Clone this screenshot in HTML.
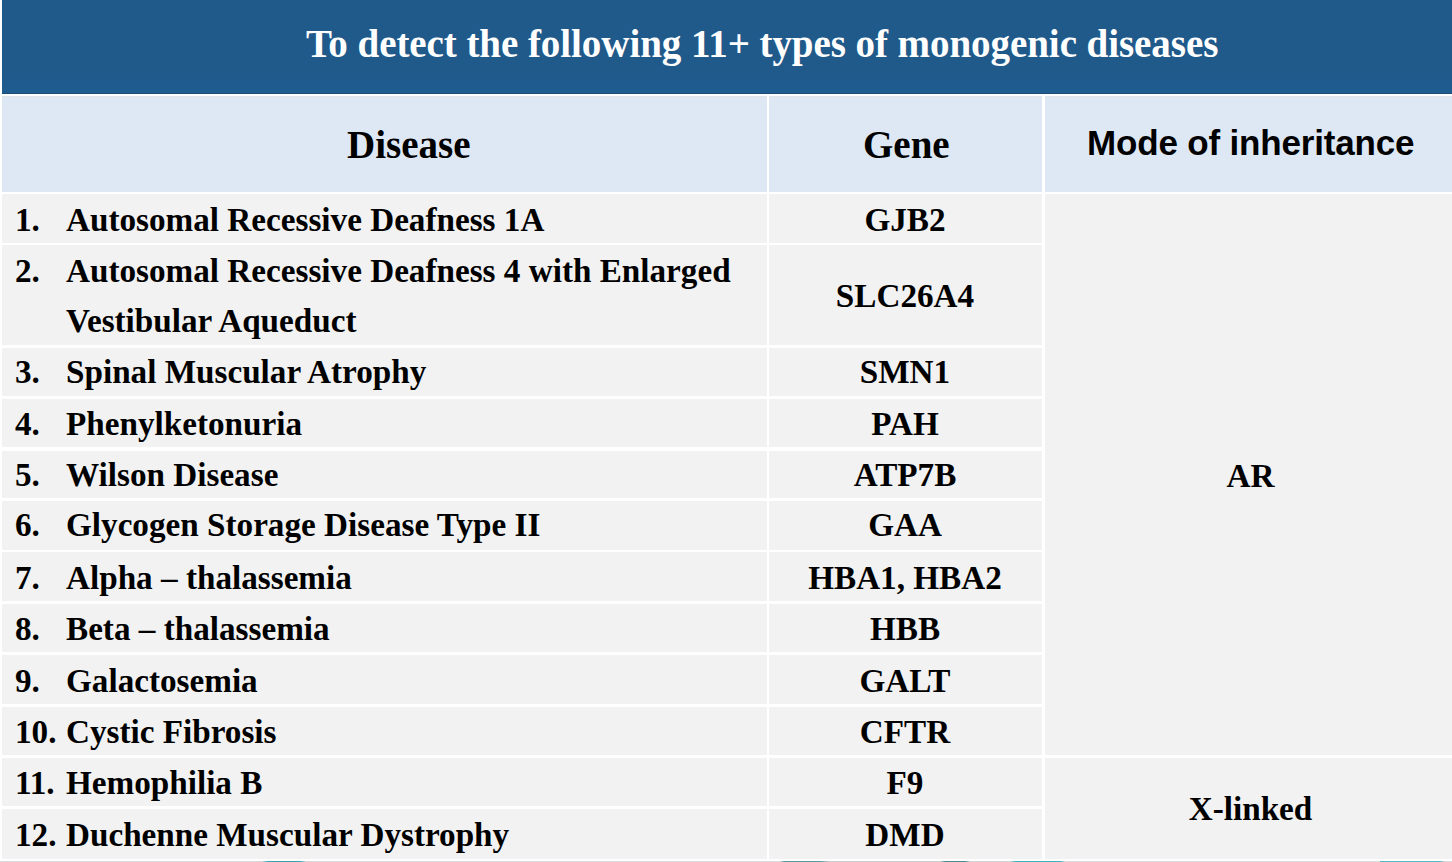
<!DOCTYPE html><html><head><meta charset="utf-8"><style>
html,body{margin:0;padding:0;}
body{width:1452px;height:862px;position:relative;overflow:hidden;background:#fff;font-family:"Liberation Serif",serif;font-weight:bold;color:#000;}
.a{position:absolute;}
.c{position:absolute;background:#f2f2f2;}
.h{position:absolute;background:linear-gradient(#dfe4ea 0px,#dfe4ea 1px,#dde8f4 2px);}
.t{position:absolute;white-space:nowrap;font-size:33.2px;line-height:1;}
.ctr{text-align:center;}
</style></head><body>
<div class="a" style="left:2px;top:0;width:1450px;height:94px;background:linear-gradient(#205a8b 0px,#205a8b 78px,#1e5b8f 86px,#1e5b8f 92px);"></div>
<div class="a" style="left:2px;top:93px;width:1450px;height:1px;background:#1d4c76;"></div>
<div class="a" style="left:0;top:861px;width:1452px;height:1px;background:linear-gradient(90deg,#d8dcdc 0px,#d8dcdc 262px,#3aa0b0 268px,#3aa0b0 300px,#d8dcdc 306px,#d8dcdc 780px,#5a9aa8 784px,#5a9aa8 820px,#c8d0d0 830px,#c8d0d0 940px,#4a8a98 945px,#4a8a98 965px,#d0d8d8 970px,#d0d8d8 1010px,#40b0c0 1015px,#40b0c0 1060px,#d8dcdc 1065px,#d8dcdc 1380px,#50b8c8 1380px,#50b8c8 1440px,#d8dcdc 1445px);"></div>
<div class="t" style="left:306px;top:24.34px;font-size:39px;color:#fff;letter-spacing:-0.06px;">To detect the following 11+ types of monogenic diseases</div>
<div class="h" style="left:2px;top:96px;width:765px;height:96px;"></div>
<div class="h" style="left:769px;top:96px;width:273px;height:96px;"></div>
<div class="h" style="left:1045px;top:96px;width:407px;height:96px;"></div>
<div class="t" style="left:347px;top:125.34px;font-size:39px;">Disease</div>
<div class="t" style="left:863px;top:125.34px;font-size:39px;">Gene</div>
<div class="t" style="left:1087px;top:125.37px;font-size:35px;letter-spacing:-0.17px;font-family:'Liberation Sans',sans-serif;">Mode of inheritance</div>
<div class="c" style="left:2px;top:194px;width:765px;height:48.50px;"></div>
<div class="c" style="left:769px;top:194px;width:273px;height:48.50px;"></div>
<div class="t" style="left:15px;top:203.19px;">1.</div>
<div class="t" style="left:66px;top:203.19px;">Autosomal Recessive Deafness 1A</div>
<div class="t ctr" style="left:769px;width:272px;top:203.19px;">GJB2</div>
<div class="c" style="left:2px;top:245.3px;width:765px;height:99.90px;"></div>
<div class="c" style="left:769px;top:245.3px;width:273px;height:99.90px;"></div>
<div class="t" style="left:15px;top:253.80px;">2.</div>
<div class="t" style="left:66px;top:253.80px;">Autosomal Recessive Deafness 4 with Enlarged</div>
<div class="t" style="left:66px;top:303.89px;">Vestibular Aqueduct</div>
<div class="t ctr" style="left:769px;width:272px;top:278.84px;">SLC26A4</div>
<div class="c" style="left:2px;top:347.7px;width:765px;height:48.00px;"></div>
<div class="c" style="left:769px;top:347.7px;width:273px;height:48.00px;"></div>
<div class="t" style="left:15px;top:354.69px;">3.</div>
<div class="t" style="left:66px;top:354.69px;">Spinal Muscular Atrophy</div>
<div class="t ctr" style="left:769px;width:272px;top:354.69px;">SMN1</div>
<div class="c" style="left:2px;top:398.7px;width:765px;height:47.90px;"></div>
<div class="c" style="left:769px;top:398.7px;width:273px;height:47.90px;"></div>
<div class="t" style="left:15px;top:406.89px;">4.</div>
<div class="t" style="left:66px;top:406.89px;">Phenylketonuria</div>
<div class="t ctr" style="left:769px;width:272px;top:406.89px;">PAH</div>
<div class="c" style="left:2px;top:450.5px;width:765px;height:47.80px;"></div>
<div class="c" style="left:769px;top:450.5px;width:273px;height:47.80px;"></div>
<div class="t" style="left:15px;top:457.89px;">5.</div>
<div class="t" style="left:66px;top:457.89px;">Wilson Disease</div>
<div class="t ctr" style="left:769px;width:272px;top:457.89px;">ATP7B</div>
<div class="c" style="left:2px;top:501.3px;width:765px;height:48.70px;"></div>
<div class="c" style="left:769px;top:501.3px;width:273px;height:48.70px;"></div>
<div class="t" style="left:15px;top:508.49px;">6.</div>
<div class="t" style="left:66px;top:508.49px;">Glycogen Storage Disease Type II</div>
<div class="t ctr" style="left:769px;width:272px;top:508.49px;">GAA</div>
<div class="c" style="left:2px;top:552.3px;width:765px;height:48.40px;"></div>
<div class="c" style="left:769px;top:552.3px;width:273px;height:48.40px;"></div>
<div class="t" style="left:15px;top:560.60px;">7.</div>
<div class="t" style="left:66px;top:560.60px;">Alpha – thalassemia</div>
<div class="t ctr" style="left:769px;width:272px;top:560.60px;">HBA1, HBA2</div>
<div class="c" style="left:2px;top:603.5px;width:765px;height:48.80px;"></div>
<div class="c" style="left:769px;top:603.5px;width:273px;height:48.80px;"></div>
<div class="t" style="left:15px;top:611.90px;">8.</div>
<div class="t" style="left:66px;top:611.90px;">Beta – thalassemia</div>
<div class="t ctr" style="left:769px;width:272px;top:611.90px;">HBB</div>
<div class="c" style="left:2px;top:655.3px;width:765px;height:48.40px;"></div>
<div class="c" style="left:769px;top:655.3px;width:273px;height:48.40px;"></div>
<div class="t" style="left:15px;top:663.70px;">9.</div>
<div class="t" style="left:66px;top:663.70px;">Galactosemia</div>
<div class="t ctr" style="left:769px;width:272px;top:663.70px;">GALT</div>
<div class="c" style="left:2px;top:706.8px;width:765px;height:48.30px;"></div>
<div class="c" style="left:769px;top:706.8px;width:273px;height:48.30px;"></div>
<div class="t" style="left:15px;top:714.80px;">10.</div>
<div class="t" style="left:66px;top:714.80px;">Cystic Fibrosis</div>
<div class="t ctr" style="left:769px;width:272px;top:714.80px;">CFTR</div>
<div class="c" style="left:2px;top:757.7px;width:765px;height:48.30px;"></div>
<div class="c" style="left:769px;top:757.7px;width:273px;height:48.30px;"></div>
<div class="t" style="left:15px;top:765.70px;">11.</div>
<div class="t" style="left:66px;top:765.70px;">Hemophilia B</div>
<div class="t ctr" style="left:769px;width:272px;top:765.70px;">F9</div>
<div class="c" style="left:2px;top:808.7px;width:765px;height:49.90px;"></div>
<div class="c" style="left:769px;top:808.7px;width:273px;height:49.90px;"></div>
<div class="t" style="left:15px;top:817.90px;">12.</div>
<div class="t" style="left:66px;top:817.90px;">Duchenne Muscular Dystrophy</div>
<div class="t ctr" style="left:769px;width:272px;top:817.90px;">DMD</div>
<div class="c" style="left:1045px;top:194px;width:407px;height:561.10px;"></div>
<div class="t ctr" style="left:1047px;width:407px;top:459.00px;">AR</div>
<div class="c" style="left:1045px;top:757.7px;width:407px;height:100.90px;"></div>
<div class="t ctr" style="left:1047px;width:407px;top:791.90px;">X-linked</div>
</body></html>
